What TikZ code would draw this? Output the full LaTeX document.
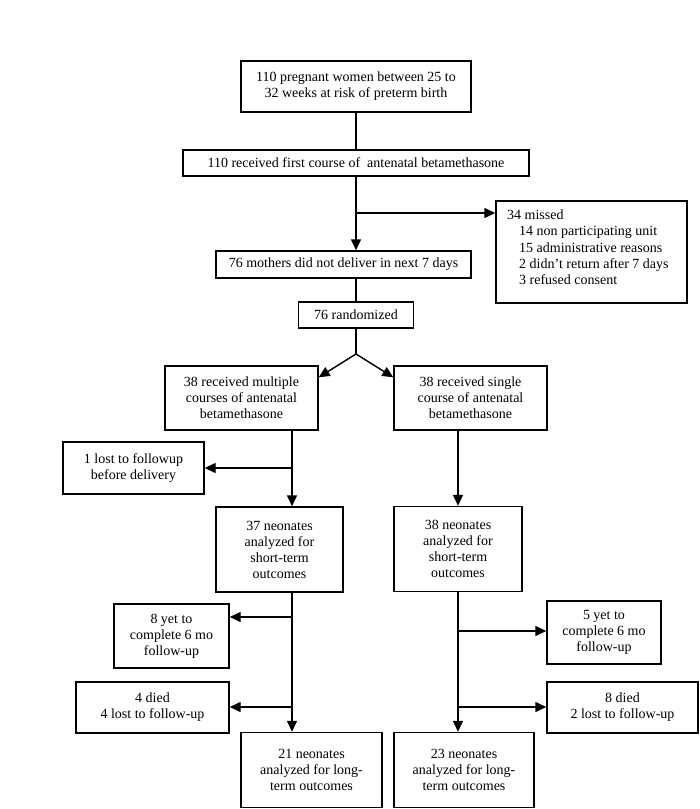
\documentclass[tikz,border=0pt]{standalone}
\usepackage{fontspec}
\setmainfont{Liberation Serif}
\usetikzlibrary{arrows.meta,calc}
\begin{document}
\begin{tikzpicture}[x=1pt,y=-1pt,
  box/.style={draw, line width=1.4pt, align=center, inner sep=0pt, font=\fontsize{14}{16}\selectfont},
  txt/.style={inner sep=0pt, align=left, font=\fontsize{14}{16.3}\selectfont},
  wire/.style={line width=1.4pt},
  arr/.style={wire, -{Triangle[length=11pt,width=10pt]}},
]
\useasboundingbox (0,0) rectangle (700,809);
\fill[white] (0,0) rectangle (700,809);

\node[box, minimum width=230pt, minimum height=51pt] (b1) at (356,86.5) {110 pregnant women between 25 to\\32 weeks at risk of preterm birth};
\node[box, minimum width=346pt, minimum height=26pt] (b2) at (356,163) {110 received first course of\ \ antenatal betamethasone};
\node[box, minimum width=255pt, minimum height=27pt] (b3) at (343.5,264.5) {76 mothers did not deliver in next 7 days};
\node[box, minimum width=115pt, minimum height=26pt] (b4) at (356,315) {76 randomized};
\node[box, minimum width=191pt, minimum height=102pt] (missed) at (591.5,252) {};
\node[txt, anchor=west] (missedtxt) at (507,247.5) {34 missed\\\hspace*{12pt}14 non participating unit\\\hspace*{12pt}15 administrative reasons\\\hspace*{12pt}2 didn’t return after 7 days\\\hspace*{12pt}3 refused consent};

\node[box, minimum width=153pt, minimum height=64pt] (L) at (241.5,398) {38 received multiple\\courses of antenatal\\betamethasone};
\node[box, minimum width=153pt, minimum height=64pt] (R) at (470.5,398) {38 received single\\course of antenatal\\betamethasone};
\node[box, minimum width=141pt, minimum height=52pt] (lost1) at (133.5,468) {1 lost to followup\\before delivery};
\node[box, minimum width=127pt, minimum height=85pt] (N37) at (279.5,549.5) {37 neonates\\analyzed for\\short-term\\outcomes};
\node[box, minimum width=128pt, minimum height=85pt] (N38) at (458,549) {38 neonates\\analyzed for\\short-term\\outcomes};
\node[box, minimum width=115pt, minimum height=64pt] (yet8) at (171.5,636) {8 yet to\\complete 6 mo\\follow-up};
\node[box, minimum width=114pt, minimum height=63pt] (yet5) at (604,632.5) {5 yet to\\complete 6 mo\\follow-up};
\node[box, minimum width=153pt, minimum height=51pt] (died4) at (152.5,707.5) {4 died\\4 lost to follow-up};
\node[box, minimum width=151pt, minimum height=51pt] (died8) at (622.5,707.5) {8 died\\2 lost to follow-up};
\node[box, minimum width=141pt, minimum height=75pt] (L21) at (311.5,770) {21 neonates\\analyzed for long-\\term outcomes};
\node[box, minimum width=140pt, minimum height=75pt] (L23) at (464,770) {23 neonates\\analyzed for long-\\term outcomes};

% top chain
\draw[wire] (b1.south) -- (b2.north);
\draw[arr] (b2.south) -- (b2.south |- b3.north);
\coordinate (j1) at (356,213);
\draw[arr] (j1) -- (j1 -| missed.west);
\draw[wire] (b4.north |- b3.south) -- (b4.north);
\coordinate (apex) at (356,354);
\draw[wire] (b4.south) -- (apex);
\draw[arr] (apex) -- ($(L.north east)+(0,12)$);
\draw[arr] (apex) -- ($(R.north west)+(0,12)$);

% left column
\coordinate (cl) at (292,0);
\draw[arr] (L.south -| cl) -- (N37.north -| cl);
\draw[arr] (N37.south -| cl) -- (L21.north -| cl);
\coordinate (bl1) at (292,468);
\coordinate (bl2) at (292,617);
\coordinate (bl3) at (292,707);
\draw[arr] (bl1) -- (bl1 -| lost1.east);
\draw[arr] (bl2) -- (bl2 -| yet8.east);
\draw[arr] (bl3) -- (bl3 -| died4.east);

% right column
\draw[arr] (R.south -| N38.north) -- (N38.north);
\draw[arr] (N38.south) -- (N38.south |- L23.north);
\coordinate (br1) at (458,631);
\coordinate (br2) at (458,707);
\draw[arr] (br1) -- (br1 -| yet5.west);
\draw[arr] (br2) -- (br2 -| died8.west);
\end{tikzpicture}
\end{document}
